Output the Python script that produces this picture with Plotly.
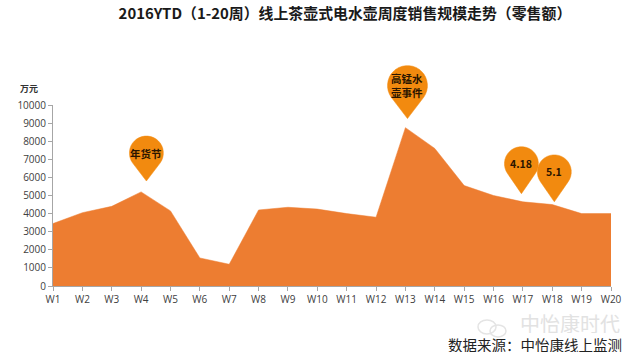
import math
import plotly.graph_objects as go

weeks = [f"W{i}" for i in range(1, 21)]
sales = [3450, 4050, 4400, 5200, 4150, 1550, 1200, 4200, 4350, 4250,
         4000, 3800, 8750, 7600, 5550, 5000, 4650, 4500, 4000, 4000]
y_ticks = list(range(0, 10001, 1000))
title = "2016YTD（1-20周）线上茶壶式电水壶周度销售规模走势（零售额）"
unit = "万元"
source = "数据来源：中怡康线上监测"
watermark = "中怡康时代"
# label, x position (category units), tip value, radius px, height px
pins = [
    ("年货节", 3.18, 5800, 17, 28),
    ("高锰水<br>壶事件", 12.07, 9250, 20, 33),
    ("4.18", 15.95, 5100, 17, 30),
    ("5.1", 17.07, 4650, 17, 30),
]

CJK = "Noto Sans CJK SC"
ORANGE = "#ED7D31"
PIN = "#F28A0F"
X_SPAN = len(weeks) - 1
Y_SPAN = y_ticks[-1]

def pin_path(r, h):
    pts = ["M 0 0"]
    for deg in range(-35, 216, 10):
        a = math.radians(deg)
        pts.append(f"L {r*math.cos(a):.1f} {h + r*math.sin(a):.1f}")
    return " ".join(pts) + " Z"

fig = go.Figure()
fig.add_trace(go.Scatter(x=list(range(len(weeks))), y=sales, mode="lines", fill="tozeroy",
                         fillcolor=ORANGE, line=dict(color=ORANGE, width=0.5),
                         hoverinfo="skip", showlegend=False))

shapes, annotations = [], []
for label, px, val, r, h in pins:
    shapes.append(dict(type="path", xref="paper", yref="paper", xsizemode="pixel", ysizemode="pixel",
                       xanchor=px / X_SPAN, yanchor=val / Y_SPAN, path=pin_path(r, h),
                       fillcolor=PIN, line=dict(color=PIN, width=0.5), layer="above"))
    annotations.append(dict(x=px, y=val, xref="x", yref="y", text=f"<b>{label}</b>", showarrow=False,
                            yshift=h, yanchor="middle", xanchor="center",
                            font=dict(family=CJK, size=10.5, color="#2a1500")))

# faint speech-bubble icon beside the watermark
for cx, cy, rx, ry in [(487, 327, 9, 7), (498, 331, 8, 6)]:
    shapes.append(dict(type="circle", xref="paper", yref="paper", xsizemode="pixel", ysizemode="pixel",
                       xanchor=(cx - 53) / 558, yanchor=(286 - cy) / 181.5,
                       x0=-rx, x1=rx, y0=-ry, y1=ry,
                       line=dict(color="#e4e4e4", width=1.5), fillcolor="rgba(0,0,0,0)"))

annotations += [
    dict(x=-0.043, y=1.09, xref="paper", yref="paper", text=f"<b>{unit}</b>", showarrow=False,
         xanchor="center", yanchor="middle", font=dict(family=CJK, size=9, color="#333333")),
    dict(x=1.0195, y=-0.205, xref="paper", yref="paper", text=watermark, showarrow=False, height=20,
         xanchor="right", yanchor="middle", font=dict(family=CJK, size=20, color="#e2e2e2")),
    dict(x=1.0235, y=-0.322, xref="paper", yref="paper", text=source, showarrow=False, height=16,
         xanchor="right", yanchor="middle", font=dict(family=CJK, size=14.5, color="#222222")),
]

fig.update_layout(
    width=640, height=362, paper_bgcolor="white", plot_bgcolor="white",
    margin=dict(l=53, r=29, t=104.5, b=76),
    title=dict(text=f"<b>{title}</b>", x=0.539, xanchor="center", y=0.962, yanchor="middle",
               font=dict(family=CJK, size=14.9, color="#1a1a1a")),
    xaxis=dict(range=[0, 19], tickmode="array", tickvals=list(range(len(weeks))), ticktext=weeks,
               ticks="outside", ticklen=4, tickcolor="#a6a6a6", showline=True, linecolor="#a6a6a6",
               showgrid=False, zeroline=False, tickangle=0,
               tickfont=dict(family="Open Sans", size=10, color="#404040")),
    yaxis=dict(range=[0, 10000], tickmode="array", tickvals=y_ticks, ticktext=[str(v) for v in y_ticks],
               ticks="outside", ticklen=4, tickcolor="#a6a6a6", showline=True, linecolor="#a6a6a6",
               showgrid=False, zeroline=False,
               tickfont=dict(family="Open Sans", size=10, color="#404040")),
    shapes=shapes, annotations=annotations,
)
fig.write_html("out.html", config={"displayModeBar": False},
               post_script="document.body.style.margin='0';document.body.style.overflow='hidden';")
